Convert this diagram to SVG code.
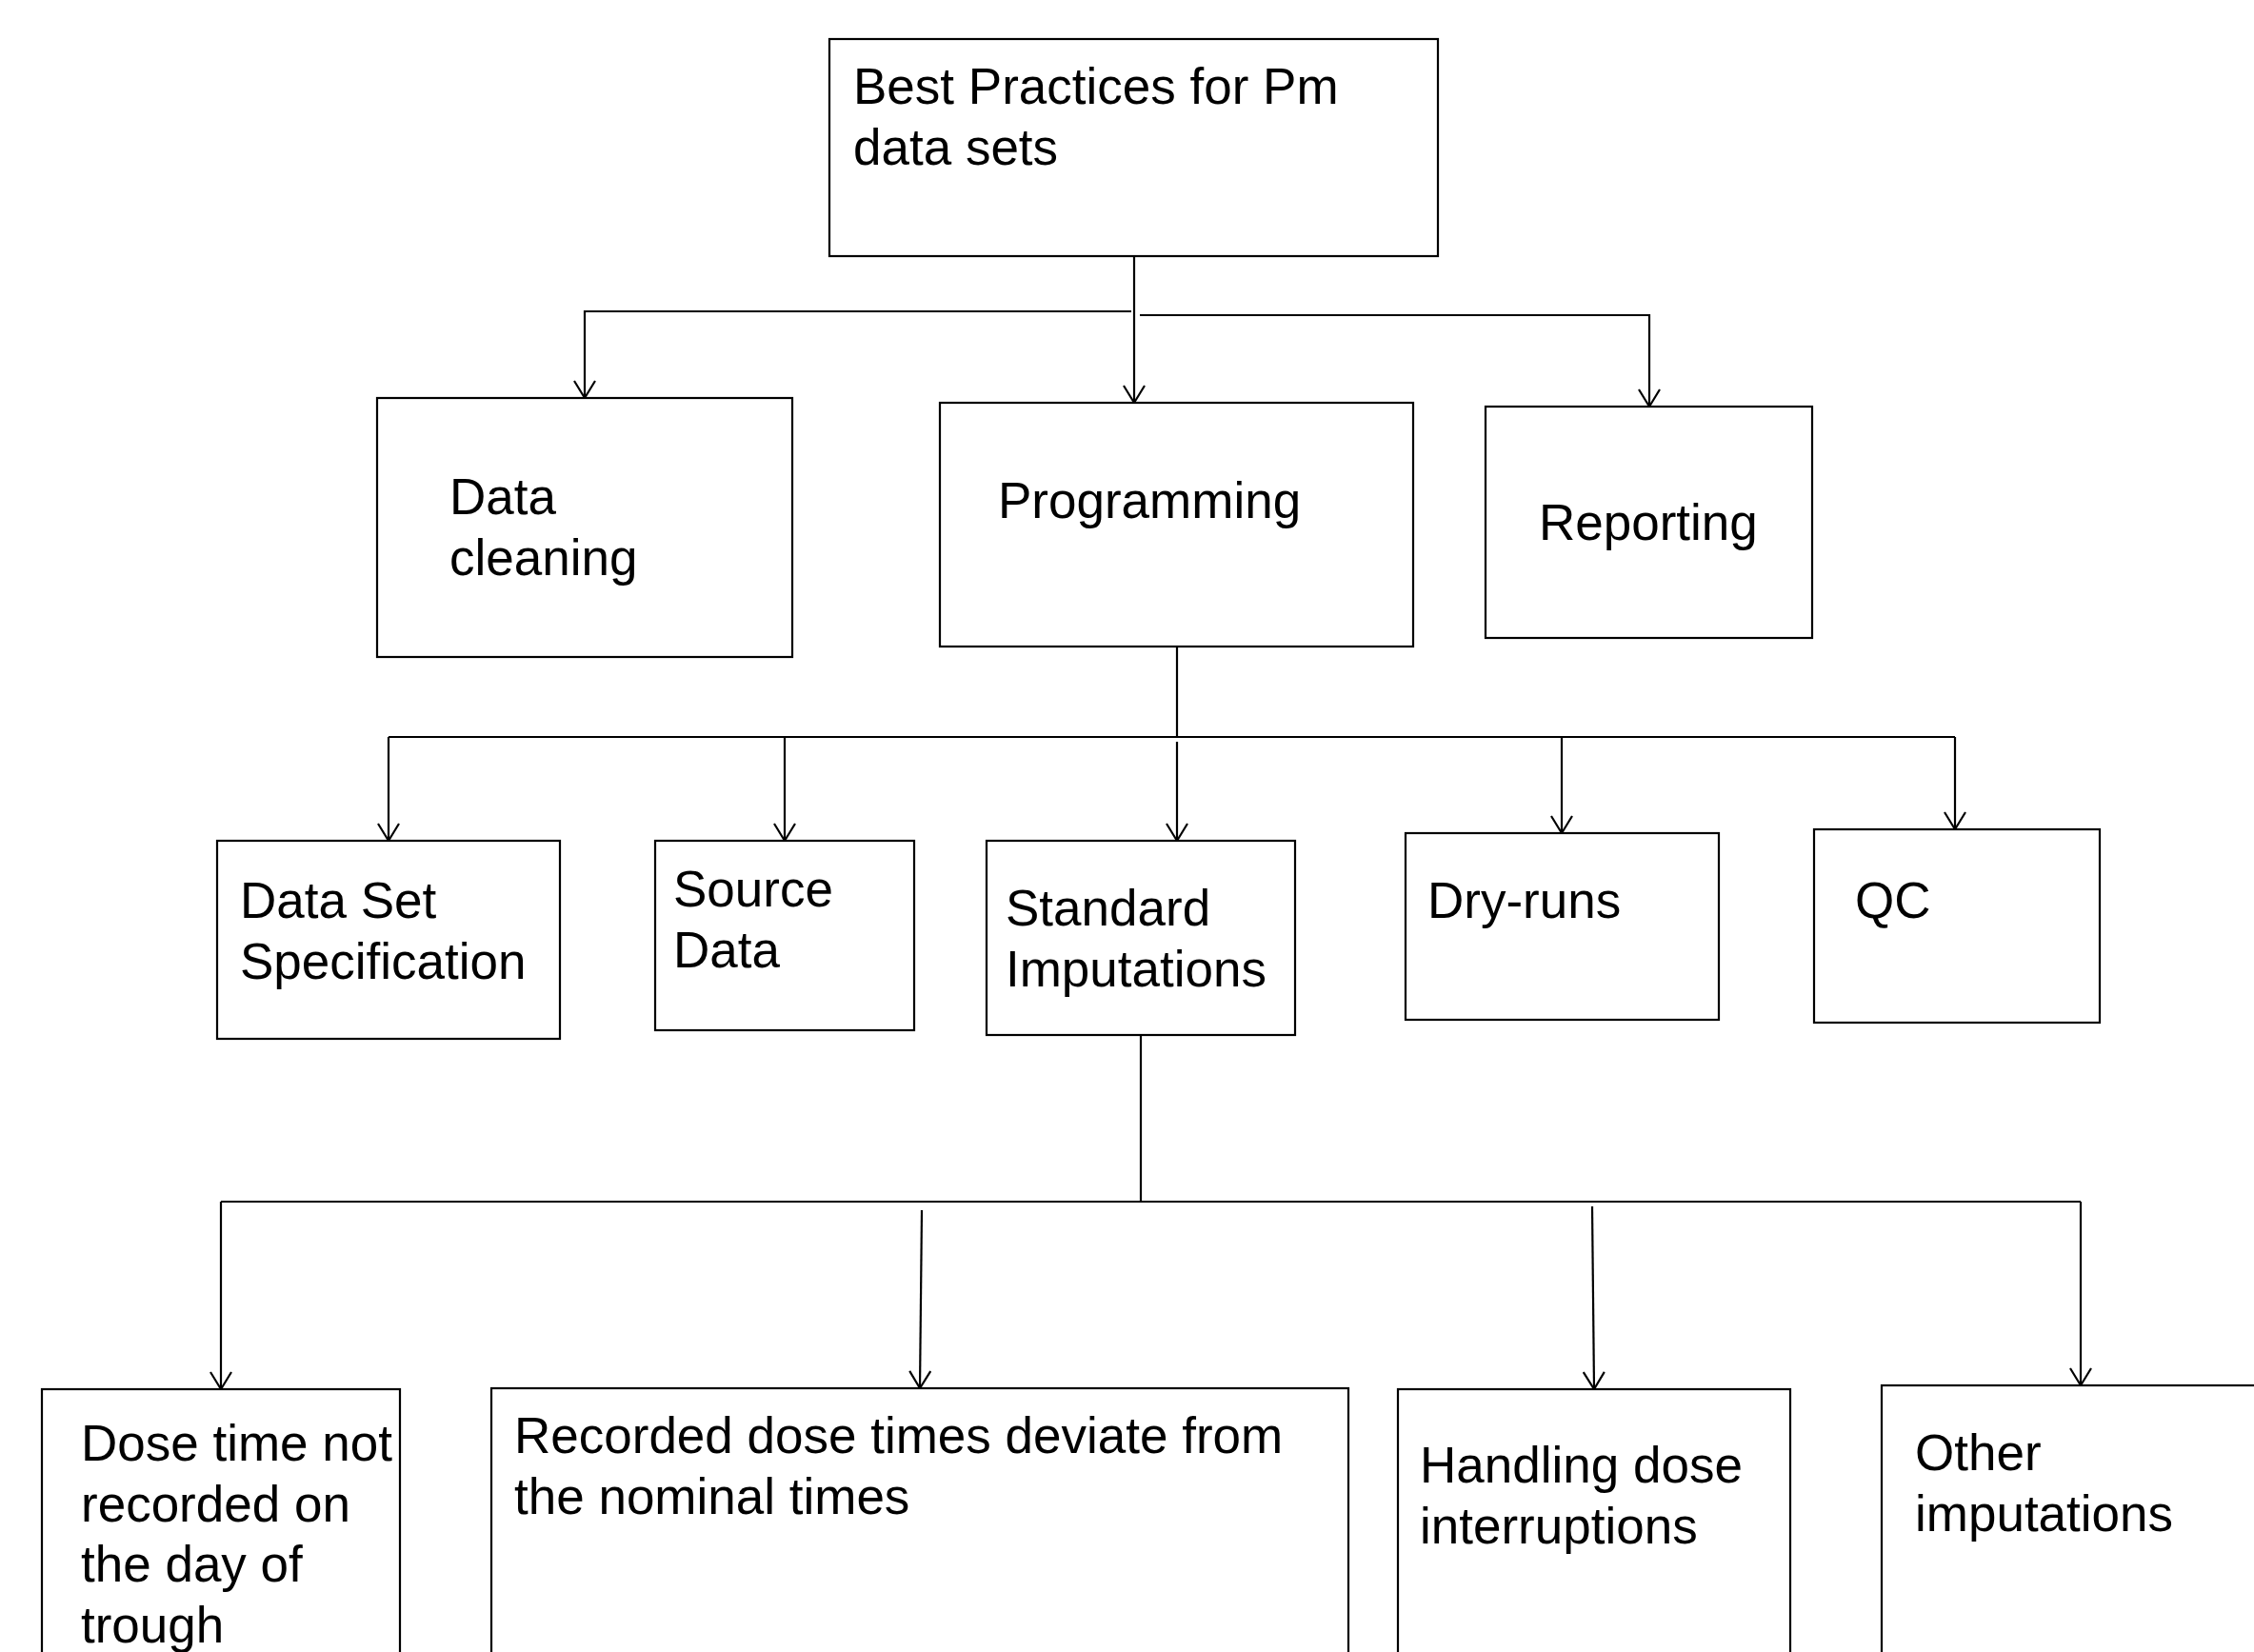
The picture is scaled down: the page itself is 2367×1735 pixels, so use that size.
<svg xmlns="http://www.w3.org/2000/svg" width="2367" height="1735" viewBox="0 0 2367 1735">
<style>
.box{fill:#fff;stroke:#000;stroke-width:2.2}
.lbl{font-family:"Liberation Sans",Arial,sans-serif;font-size:53px;fill:#000}
.conn{fill:none;stroke:#000;stroke-width:2.2}
</style>
<defs>
<marker id="arr" markerUnits="userSpaceOnUse" markerWidth="24" markerHeight="24" refX="20" refY="12" orient="auto" viewBox="0 0 24 24">
<path d="M2,1 L20,12 L2,23" fill="none" stroke="#000" stroke-width="2.2"/>
</marker>
</defs>
<rect width="2367" height="1735" fill="#fff"/>
<g id="connectors">
<path class="conn" d="M1191,269 V423" marker-end="url(#arr)"/>
<path class="conn" d="M1188,327 H614 V418" marker-end="url(#arr)"/>
<path class="conn" d="M1197,331 H1732 V427" marker-end="url(#arr)"/>
<path class="conn" d="M1236,679 V774"/>
<path class="conn" d="M408,774 H2053"/>
<path class="conn" d="M408,774 V883" marker-end="url(#arr)"/>
<path class="conn" d="M824,774 V883" marker-end="url(#arr)"/>
<path class="conn" d="M1236,779 V883" marker-end="url(#arr)"/>
<path class="conn" d="M1640,774 V875" marker-end="url(#arr)"/>
<path class="conn" d="M2053,774 V871" marker-end="url(#arr)"/>
<path class="conn" d="M1198,1087 V1262"/>
<path class="conn" d="M232,1262 H2185"/>
<path class="conn" d="M232,1262 V1459" marker-end="url(#arr)"/>
<path class="conn" d="M968,1271 L966,1458" marker-end="url(#arr)"/>
<path class="conn" d="M1672,1267 L1674,1459" marker-end="url(#arr)"/>
<path class="conn" d="M2185,1262 V1455" marker-end="url(#arr)"/>
</g>
<g id="best-practices">
<rect class="box" x="871" y="41" width="639" height="228"/>
<text class="lbl" x="896" y="109">Best Practices for Pm</text>
<text class="lbl" x="896" y="173">data sets</text>
</g>
<g id="data-cleaning">
<rect class="box" x="396" y="418" width="436" height="272"/>
<text class="lbl" x="472" y="540">Data</text>
<text class="lbl" x="472" y="604">cleaning</text>
</g>
<g id="programming">
<rect class="box" x="987" y="423" width="497" height="256"/>
<text class="lbl" x="1048" y="544">Programming</text>
</g>
<g id="reporting">
<rect class="box" x="1560" y="427" width="343" height="243"/>
<text class="lbl" x="1616" y="567">Reporting</text>
</g>
<g id="data-set-spec">
<rect class="box" x="228" y="883" width="360" height="208"/>
<text class="lbl" x="252" y="964">Data Set</text>
<text class="lbl" x="252" y="1028">Specification</text>
</g>
<g id="source-data">
<rect class="box" x="688" y="883" width="272" height="199"/>
<text class="lbl" x="707" y="952">Source</text>
<text class="lbl" x="707" y="1016">Data</text>
</g>
<g id="standard-imputations">
<rect class="box" x="1036" y="883" width="324" height="204"/>
<text class="lbl" x="1056" y="972">Standard</text>
<text class="lbl" x="1056" y="1036">Imputations</text>
</g>
<g id="dry-runs">
<rect class="box" x="1476" y="875" width="329" height="196"/>
<text class="lbl" x="1499" y="964">Dry-runs</text>
</g>
<g id="qc">
<rect class="box" x="1905" y="871" width="300" height="203"/>
<text class="lbl" x="1948" y="964">QC</text>
</g>
<g id="dose-time-not-recorded">
<rect class="box" x="44" y="1459" width="376" height="320"/>
<text class="lbl" x="85" y="1534">Dose time not</text>
<text class="lbl" x="85" y="1598">recorded on</text>
<text class="lbl" x="85" y="1661">the day of</text>
<text class="lbl" x="85" y="1725">trough</text>
</g>
<g id="recorded-dose-times">
<rect class="box" x="516" y="1458" width="900" height="320"/>
<text class="lbl" x="540" y="1526">Recorded dose times deviate from</text>
<text class="lbl" x="540" y="1590">the nominal times</text>
</g>
<g id="handling-dose-interruptions">
<rect class="box" x="1468" y="1459" width="412" height="320"/>
<text class="lbl" x="1491" y="1557">Handling dose</text>
<text class="lbl" x="1491" y="1621">interruptions</text>
</g>
<g id="other-imputations">
<rect class="box" x="1976" y="1455" width="420" height="320"/>
<text class="lbl" x="2011" y="1544">Other</text>
<text class="lbl" x="2011" y="1608">imputations</text>
</g>
</svg>
